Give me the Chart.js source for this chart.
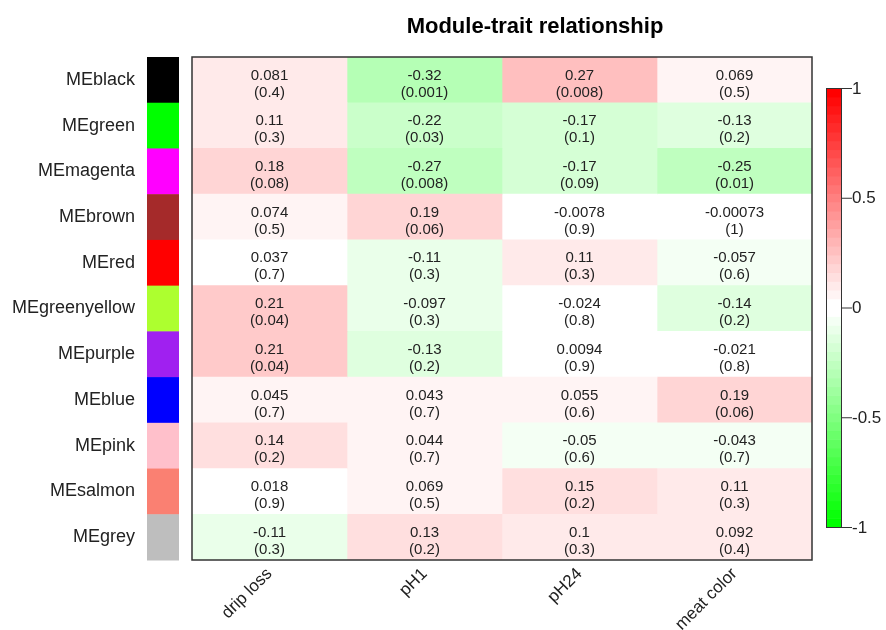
<!DOCTYPE html>
<html>
<head>
<meta charset="utf-8">
<title>Module-trait relationship</title>
<script src="https://cdn.jsdelivr.net/npm/chart.js@4/dist/chart.umd.min.js"></script>
<style>
  html, body { margin: 0; padding: 0; background: #ffffff; }
  #wrap { width: 886px; height: 630px; }
</style>
</head>
<body>
<div id="wrap"><canvas id="c" width="886" height="630"></canvas></div>
<script>
// Module eigengenes (rows) and their module colours
const modules = ['MEblack', 'MEgreen', 'MEmagenta', 'MEbrown', 'MEred', 'MEgreenyellow',
                 'MEpurple', 'MEblue', 'MEpink', 'MEsalmon', 'MEgrey'];
const moduleColors = ['#000000', '#00FF00', '#FF00FF', '#A52A2A', '#FF0000', '#ADFF2F',
                      '#A020F0', '#0000FF', '#FFC0CB', '#FA8072', '#BEBEBE'];

// Traits (columns)
const traits = ['drip loss', 'pH1', 'pH24', 'meat color'];

// Correlations, one list per trait (row order as in `modules`)
const corDripLoss  = [0.081, 0.11, 0.18, 0.074, 0.037, 0.21, 0.21, 0.045, 0.14, 0.018, -0.11];
const corPH1       = [-0.32, -0.22, -0.27, 0.19, -0.11, -0.097, -0.13, 0.043, 0.044, 0.069, 0.13];
const corPH24      = [0.27, -0.17, -0.17, -0.0078, 0.11, -0.024, 0.0094, 0.055, -0.05, 0.15, 0.1];
const corMeatColor = [0.069, -0.13, -0.25, -0.00073, -0.057, -0.14, -0.021, 0.19, -0.043, 0.11, 0.092];

// P-values as printed under each correlation
const pDripLoss  = ['0.4', '0.3', '0.08', '0.5', '0.7', '0.04', '0.04', '0.7', '0.2', '0.9', '0.3'];
const pPH1       = ['0.001', '0.03', '0.008', '0.06', '0.3', '0.3', '0.2', '0.7', '0.7', '0.5', '0.2'];
const pPH24      = ['0.008', '0.1', '0.09', '0.9', '0.3', '0.8', '0.9', '0.6', '0.6', '0.2', '0.3'];
const pMeatColor = ['0.5', '0.2', '0.01', '1', '0.6', '0.2', '0.8', '0.06', '0.7', '0.3', '0.4'];

// Colour-bar tick labels
const legendTicks = [1, 0.5, 0, -0.5, -1];

const corColumns = [corDripLoss, corPH1, corPH24, corMeatColor];
const pColumns = [pDripLoss, pPH1, pPH24, pMeatColor];

const FONT = "'Liberation Sans', Arial, Helvetica, sans-serif";

// 50-step green-white-red palette over [-1, 1]
const N_COL = 50;
const palette = (() => {
  const half = N_COL / 2, out = [];
  for (let i = 0; i < half; i++) {
    const c = Math.round(i / (half - 1) * 255);
    out.push(`rgb(${c},255,${c})`);
  }
  for (let j = 0; j < half; j++) {
    const c = Math.round((1 - j / (half - 1)) * 255);
    out.push(`rgb(255,${c},${c})`);
  }
  return out;
})();
function colorFor(v) {
  let k = Math.floor((v + 1) / 2 * N_COL);
  if (k < 0) k = 0;
  if (k > N_COL - 1) k = N_COL - 1;
  return palette[k];
}

// One dataset per trait: horizontal floating bars spanning [col, col+1]
const datasets = traits.map((t, c) => ({
  label: t,
  data: modules.map(() => [c, c + 1]),
  backgroundColor: corColumns[c].map(colorFor),
  borderWidth: 0,
  borderSkipped: false,
  barPercentage: 1,
  categoryPercentage: 1,
  grouped: false
}));

// Title, module colour strip, cell labels, frame and colour legend
const decorations = {
  id: 'decorations',
  beforeDatasetsDraw(chart) {
    const { ctx } = chart;
    const y = chart.scales.y;
    const rowH = y.height / modules.length;
    ctx.save();
    modules.forEach((m, i) => {
      const cy = y.getPixelForValue(i);
      ctx.fillStyle = moduleColors[i];
      ctx.fillRect(147, cy - rowH / 2, 32, rowH + 0.5);
    });
    ctx.restore();
  },
  afterDatasetsDraw(chart) {
    const { ctx, chartArea: a } = chart;
    const x = chart.scales.x, y = chart.scales.y;
    ctx.save();
    ctx.fillStyle = '#222222';
    ctx.font = `15px ${FONT}`;
    ctx.textAlign = 'center';
    ctx.textBaseline = 'middle';
    corColumns.forEach((col, c) => {
      const cx = x.getPixelForValue(c + 0.5);
      col.forEach((v, i) => {
        const cy = y.getPixelForValue(i);
        ctx.fillText(String(v), cx, cy - 4.5);
        ctx.fillText('(' + pColumns[c][i] + ')', cx, cy + 12.5);
      });
    });
    // frame around the heatmap
    ctx.strokeStyle = '#333333';
    ctx.lineWidth = 1.5;
    ctx.strokeRect(a.left, a.top, a.right - a.left, a.bottom - a.top);

    // title
    ctx.fillStyle = '#000000';
    ctx.font = `bold 22px ${FONT}`;
    ctx.textBaseline = 'middle';
    ctx.fillText('Module-trait relationship', 535, 27);

    // colour legend
    const lx = 826, lw = 15, top = 88, bot = 527;
    const step = (bot - top) / N_COL;
    for (let k = 0; k < N_COL; k++) {
      ctx.fillStyle = palette[k];
      ctx.fillRect(lx, bot - (k + 1) * step, lw, step + 0.6);
    }
    ctx.strokeStyle = '#333333';
    ctx.lineWidth = 1;
    ctx.strokeRect(lx + 0.5, top + 0.5, lw, bot - top);
    ctx.fillStyle = '#222222';
    ctx.font = `17px ${FONT}`;
    ctx.textAlign = 'left';
    legendTicks.forEach(v => {
      const py = bot - (v + 1) / 2 * (bot - top);
      ctx.beginPath();
      ctx.moveTo(lx + lw, py + 0.5);
      ctx.lineTo(lx + lw + 11, py + 0.5);
      ctx.stroke();
      ctx.fillText(String(v), lx + lw + 11, py + 1);
    });
    ctx.restore();
  }
};

new Chart(document.getElementById('c'), {
  type: 'bar',
  data: { labels: modules, datasets },
  options: {
    indexAxis: 'y',
    responsive: false,
    animation: false,
    layout: { padding: { top: 57, right: 74, left: 0, bottom: 0 } },
    plugins: {
      legend: { display: false },
      tooltip: { enabled: false },
      title: { display: false }
    },
    scales: {
      x: {
        type: 'linear',
        min: 0,
        max: traits.length,
        grid: { display: false, drawTicks: false },
        border: { display: false },
        afterBuildTicks(axis) {
          axis.ticks = traits.map((t, i) => ({ value: i + 0.5 }));
        },
        afterFit(axis) { axis.height = 70; },
        ticks: {
          autoSkip: false,
          minRotation: 45,
          maxRotation: 45,
          padding: 4,
          color: '#222222',
          font: { family: FONT, size: 17 },
          callback: (v) => traits[Math.floor(v)]
        }
      },
      y: {
        type: 'category',
        offset: true,
        grid: { display: false, drawTicks: false },
        border: { display: false },
        afterFit(axis) {
          axis.width = 192;
          // the wide label gap should not push the plot area down
          axis.paddingTop = 0;
          axis.paddingBottom = 0;
        },
        ticks: {
          padding: 57,
          color: '#222222',
          font: { family: FONT, size: 18 }
        }
      }
    }
  },
  plugins: [decorations]
});
</script>
</body>
</html>
